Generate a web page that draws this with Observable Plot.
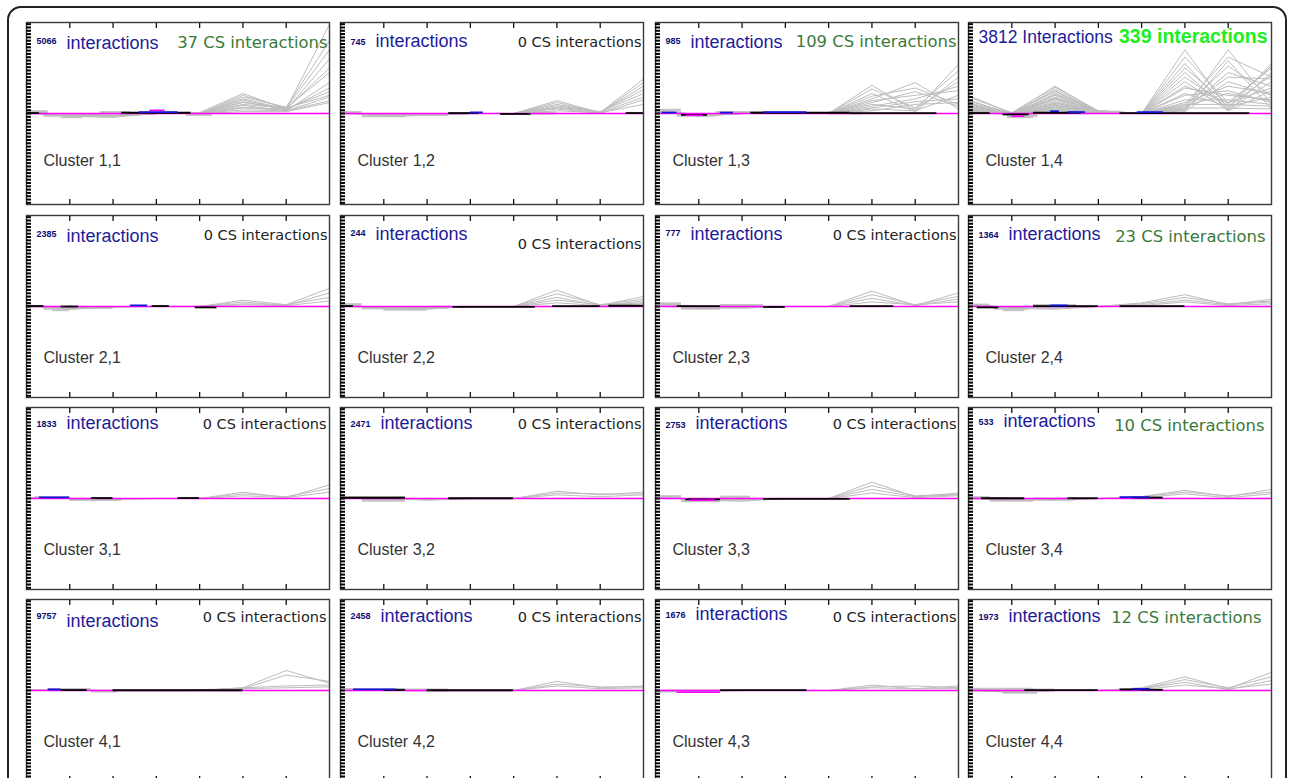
<!DOCTYPE html>
<html><head><meta charset="utf-8">
<script src="https://cdn.jsdelivr.net/npm/d3@7"></script>
<script src="https://cdn.jsdelivr.net/npm/@observablehq/plot@0.6"></script>
<style>
body{margin:0;background:#fff;}
#page{position:relative;width:1289px;height:778px;overflow:hidden;background:#fff;}
#outer{position:absolute;left:7px;top:6px;width:1280px;height:830px;border:2px solid #222;border-radius:14px;box-sizing:border-box;}
.panel{position:absolute;line-height:0;}
</style></head><body><div id="page"><div id="outer"></div></div>
<script>
// ---- data ----
const clusters = ["1,1","1,2","1,3","1,4","2,1","2,2","2,3","2,4","3,1","3,2","3,3","3,4","4,1","4,2","4,3","4,4"];
const interactions = [5066,745,985,3812,2385,244,777,1364,1833,2471,2753,533,9757,2458,1676,1973];
const csInteractions = [37,0,109,339,0,0,0,23,0,0,0,10,0,0,0,12];
const positions = [0,1,2,3,4,5,6,7];
const xTicks = [1,2,3,4,5,6];
const csMean = [0,0,0,0,0,0,0,0];

const grey11 = [[0.02,-0.03,-0.04,0,0.01,0.22,0.05,0.98],[0.01,-0.02,-0.03,0.01,0,0.18,0.07,0.8],[0.02,-0.03,-0.02,0,0,0.15,0.04,0.6],[0.01,-0.01,-0.03,0.01,0,0.12,0.06,0.45],[0,-0.02,-0.02,0,0,0.09,0.03,0.34],[0.01,-0.03,-0.04,0.01,0,0.06,0.05,0.24],[0,-0.01,-0.02,0,0,0.04,0.03,0.18],[0.01,-0.02,-0.03,0,0,0.02,0.02,0.12],[0.01,-0.02,-0.03,0,0,0.2,0.06,0.7],[0,-0.01,-0.02,0,0,0.16,0.05,0.5],[0.01,-0.02,-0.03,0,0,0.13,0.04,0.28],[0,-0.01,-0.02,0,0,0.1,0.06,0.2],[0.01,-0.02,-0.03,0,0,0.07,0.03,0.14]];
const grey12 = [[0.02,-0.03,-0.02,0,0,0.14,0.01,0.38],[0.01,-0.02,-0.01,0,0,0.1,0.01,0.3],[0.02,-0.03,-0.02,0,0,0.07,0.02,0.22],[0,-0.01,-0.01,0,0,0.05,0,0.15],[0.01,-0.02,0,0,0,0.03,0.01,0.1],[0.01,-0.02,-0.02,0,0,0.12,0.01,0.34],[0,-0.01,-0.01,0,0,0.085,0.02,0.26],[0.01,-0.02,-0.01,0,0,0.06,0.01,0.18]];
const grey13 = [[0.05,-0.03,0,0.01,0,0.31,0.03,0.54],[0.04,-0.02,0.01,0,0,0.22,0.02,0.4],[0.03,-0.03,0,0.01,0,0.16,0.34,0.05],[0.04,-0.02,0.01,0,0,0.12,0.24,0.08],[0.02,-0.01,0,0,0,0.08,0.16,0.3],[0.03,-0.02,0.01,0,0,0.05,0.03,0.2],[0.02,-0.01,0,0,0,0.03,0.1,0.12],[0.03,-0.02,0,0,0,0.27,0.06,0.47],[0.03,-0.01,0,0,0,0.19,0.28,0.1],[0.02,-0.02,0,0,0,0.14,0.2,0.25],[0.02,-0.01,0,0,0,0.1,0.05,0.35],[0.01,-0.01,0,0,0,0.06,0.13,0.16]];
const grey14 = [[0.2,0,0.3,0.02,0,0.7,0.05,0.55],[0.15,-0.01,0.27,0.02,0,0.05,0.7,0.1],[0.12,0,0.25,0.01,0,0.55,0.03,0.45],[0.1,-0.02,0.22,0.02,0,0.03,0.58,0.05],[0.08,0,0.2,0.01,0,0.45,0.04,0.35],[0.06,-0.01,0.17,0.02,0,0.04,0.45,0.3],[0.05,0,0.15,0.01,0,0.35,0.03,0.25],[0.04,-0.02,0.12,0.01,0,0.02,0.35,0.2],[0.03,0,0.1,0.02,0,0.28,0.2,0.15],[0.02,-0.01,0.08,0.01,0,0.2,0.25,0.12],[0.02,0,0.06,0.01,0,0.15,0.15,0.1],[0.01,-0.01,0.04,0,0,0.1,0.1,0.08],[0.01,0,0.03,0,0,0.06,0.06,0.05],[0.18,0.01,0.29,0.03,0,0.62,0.12,0.5],[0.14,0,0.24,0.02,0,0.1,0.62,0.4],[0.11,-0.01,0.21,0.03,0,0.5,0.1,0.52],[0.09,0,0.18,0.02,0,0.08,0.52,0.2],[0.07,-0.01,0.16,0.03,0,0.4,0.08,0.42],[0.05,0,0.13,0.02,0,0.06,0.4,0.38],[0.04,0,0.11,0.03,0,0.3,0.12,0.28],[0.03,-0.01,0.09,0.02,0,0.12,0.3,0.22],[0.02,0,0.07,0.02,0,0.22,0.08,0.18],[0.02,0,0.05,0.01,0,0.08,0.22,0.14]];
const grey21 = [[0.02,-0.03,-0.01,0,0,0.07,0.02,0.2],[0.01,-0.02,0,0,0,0.05,0.01,0.15],[0.01,-0.01,0,0,0,0.03,0.02,0.1],[0,-0.02,0,0,0,0.02,0.01,0.06]];
const grey22 = [[0.02,-0.02,-0.03,0,0,0.18,0.01,0.11],[0.01,-0.01,-0.02,0,0,0.14,0.02,0.08],[0.01,-0.02,-0.01,0,0,0.1,0.01,0.06],[0,-0.01,-0.02,0,0,0.07,0.02,0.04],[0.01,-0.01,0,0,0,0.04,0.01,0.03]];
const grey23 = [[0.04,-0.01,-0.02,0,0,0.17,0.01,0.15],[0.03,-0.02,-0.01,0,0,0.13,0.02,0.11],[0.02,-0.01,0,0,0,0.09,0.01,0.08],[0.02,0,-0.01,0,0,0.05,0.02,0.05]];
const grey24 = [[0.03,-0.02,-0.03,0,0.04,0.13,0.02,0.08],[0.02,-0.01,-0.02,0,0.03,0.1,0.03,0.06],[0.02,-0.02,-0.01,0,0.02,0.07,0.02,0.05],[0.01,-0.01,0,0,0.01,0.05,0.01,0.03]];
const grey31 = [[0.01,0,-0.01,0,0,0.07,0.01,0.15],[0.01,0,0,0,0,0.05,0.02,0.11],[0,0,-0.01,0,0,0.03,0.01,0.07]];
const grey32 = [[0.01,0,-0.01,0,0,0.08,0.04,0.07],[0,0,-0.02,0,0,0.06,0.05,0.05],[0.01,0,0,0,0,0.04,0.02,0.04]];
const grey33 = [[0.03,-0.02,-0.03,0,0,0.18,0.02,0.06],[0.02,-0.01,-0.02,0,0,0.14,0.03,0.05],[0.02,-0.02,-0.01,0,0,0.1,0.02,0.04],[0.01,-0.01,0,0,0,0.06,0.01,0.03]];
const grey34 = [[0.01,-0.01,-0.02,0,0.02,0.09,0.02,0.1],[0.01,0,-0.01,0,0.02,0.07,0.03,0.07],[0,-0.01,0,0,0.01,0.05,0.01,0.05]];
const grey41 = [[0.01,0,0,0,0,0.03,0.22,0.08],[0.01,0,0,0,0,0.02,0.17,0.1],[0,0,0,0,0,0.03,0.05,0.06],[0,0,0,0,0.01,0.02,0.03,0.04]];
const grey42 = [[0.01,0.01,0,0,0,0.1,0.03,0.05],[0,0,0,0,0,0.07,0.04,0.04],[0.01,0,0,0,0,0.05,0.02,0.03]];
const grey43 = [[0,-0.01,0,0,0,0.06,0.02,0.05],[0,0,0,0,0,0.04,0.05,0.03],[0,-0.01,0,0,0,0.03,0.02,0.02]];
const grey44 = [[0.01,-0.02,0,0,0.03,0.15,0.02,0.2],[0.01,-0.01,0,0,0.02,0.12,0.03,0.15],[0,-0.02,0,0,0.02,0.09,0.01,0.11],[0,-0.01,0,0,0.01,0.06,0.02,0.07]];

// segments: [series, from, to, value]
const seg11 = [["spread",0,0.5,0.02],["spread",0.4,1.7,-0.02],["spread",0.8,1.3,-0.035],["spread",1.7,2.4,0.01],["spread",3.7,4.3,-0.01],["all",2.2,3.8,0.008],["median",2.6,3.5,0.015],["cs",2.85,3.2,0.035],["all",0,0.3,0.005]];
const seg12 = [["spread",0,0.5,0.01],["spread",0.5,1.5,-0.025],["spread",1.5,2.5,-0.01],["spread",4.2,5,0.005],["all",2.5,3.2,0.005],["all",3.7,4.4,-0.005],["median",3.0,3.3,0.012],["all",6.6,7,0.005]];
const seg13 = [["spread",0,0.6,0.035],["spread",0.5,1.4,-0.02],["spread",1.4,2.5,0.01],["spread",4,4.8,0.005],["median",0.15,0.5,0.01],["all",0.6,1.2,-0.015],["cs",0.7,1.1,-0.02],["median",1.5,1.8,0.01],["all",2.2,4.5,0.008],["median",2.5,3.5,0.015],["all",4.5,6.5,0.005]];
const seg14 = [["spread",1,1.6,-0.02],["spread",0.9,1.5,-0.035],["spread",3,3.5,0.015],["all",0,0.5,0.005],["all",0.8,1.4,-0.01],["cs",1.0,1.3,-0.03],["all",1.5,2.6,0.008],["median",1.9,2.1,0.025],["median",2.3,2.7,0.015],["all",3.5,4.5,0.005],["median",3.9,4.5,0.015],["all",4.5,6.5,0.005]];
const seg21 = [["spread",0.4,1.1,-0.02],["spread",0.6,1,-0.035],["spread",1.1,2,-0.01],["all",0,0.4,0.005],["all",0.8,1.2,0],["median",2.4,2.8,0.012],["all",2.9,3.3,0.005],["all",3.9,4.4,-0.01]];
const seg22 = [["spread",0,0.5,0.02],["spread",0.5,1,-0.015],["spread",1,2,-0.03],["spread",2,2.5,-0.01],["all",0,0.3,0.005],["all",2.6,4.5,-0.005],["all",4.9,6,0.005],["all",6.2,7,0.008]];
const seg23 = [["spread",0,0.6,0.03],["spread",0.6,1.5,-0.02],["spread",1.5,2.5,0.01],["all",0.5,1.5,0.005],["all",2.5,3.0,-0.005],["all",4.5,5.5,0.005]];
const seg24 = [["spread",0,0.5,0.015],["spread",0.6,1.4,-0.02],["spread",0.8,1.3,-0.035],["spread",1.5,2.5,0.01],["all",0.2,0.7,-0.01],["all",1.5,3,0.005],["median",1.9,2.3,0.012],["all",3.5,5,0.005]];
const seg31 = [["spread",0.2,1,0.01],["spread",1,2.2,-0.01],["median",0.3,1,0.012],["all",1.5,2,0.005],["all",3.5,4,0.005]];
const seg32 = [["spread",0,1.5,0.01],["spread",0.5,1.5,-0.02],["all",0,1.5,0.008],["all",2.5,4,0.003]];
const seg33 = [["spread",0,0.6,0.02],["spread",0.6,1.5,-0.025],["spread",1.5,2.2,0.015],["all",0.7,1.5,-0.01],["cs",0.8,1.4,-0.018],["all",2.5,4.5,-0.005]];
const seg34 = [["spread",0,0.5,0.01],["spread",0.5,1.5,-0.02],["spread",1.5,2.5,-0.005],["all",0.3,1.3,0.003],["all",2.3,3,0.003],["median",3.5,4.2,0.015],["all",3.8,4.5,0.01]];
const seg41 = [["spread",0.5,1.5,0.01],["spread",1.5,2.1,-0.005],["spread",4.5,5,0.01],["median",0.5,0.8,0.012],["all",0.8,1.4,0.005],["all",2,5,0.003]];
const seg42 = [["spread",0,1.5,0.01],["spread",1.5,2.5,0.005],["median",0.3,1.3,0.012],["all",1,1.5,0.006],["all",2,4,0.003]];
const seg43 = [["spread",0,1.5,-0.005],["cs",0.5,1.5,-0.02],["all",1.5,3.5,0.004]];
const seg44 = [["spread",0,1.5,0.015],["spread",0.8,1.6,-0.02],["spread",1.5,2,0.005],["all",1.3,3,0.005],["all",3.5,4,0.012],["median",3.8,4.2,0.018],["all",4,4.5,0.008]];

const greyProfiles = [grey11,grey12,grey13,grey14,grey21,grey22,grey23,grey24,grey31,grey32,grey33,grey34,grey41,grey42,grey43,grey44];
const segments = [seg11,seg12,seg13,seg14,seg21,seg22,seg23,seg24,seg31,seg32,seg33,seg34,seg41,seg42,seg43,seg44];

// ---- layout (pixels, not data) ----
const colLeft = [26,340,655,968];
const rowTop = [22,215,407,599];
const PW = 303, PH = 182;
// [number baseline, "interactions" baseline, CS label baseline, CS right inset]
const textPos = [
  [21,26,25,2],[22,24,24,2],[21,25,24,2],[20,20,20,4],
  [21,26,24,2],[20,24,33,2],[20,24,24,2],[22,24,26,6],
  [19,21,21,3],[19,21,21,2],[20,21,21,2],[17,19,23,7],
  [19,27,22,3],[19,22,22,2],[18,20,22,2],[20,22,23,10]
];
const segColor = {spread:"#c4c4c4", all:"#000000", median:"#1414d8", cs:"#ff00ff"};
const segWidth = {spread:3, all:1.8, median:1.8, cs:1.6};
const yTicks = d3.range(-27,28).map(k => k*2/55);

const page = document.getElementById("page");
clusters.forEach((name, i) => {
  const r = Math.floor(i/4), c = i%4;
  const lines = greyProfiles[i].flatMap((p, k) => p.map((v, j) => ({x: positions[j], y: v, id: k})));
  const cs = csMean.map((v, j) => ({x: positions[j], y: v}));
  const segs = segments[i].map(([s, x1, x2, y]) => ({s, x1, x2, y}));
  const [nb, ib, cb, ci] = textPos[i];
  const n = interactions[i], csn = csInteractions[i];
  const segMark = s => Plot.ruleY(segs.filter(d => d.s === s), {y: "y", x1: "x1", x2: "x2", stroke: segColor[s], strokeWidth: segWidth[s]});
  const marks = [
    segMark("spread"),
    Plot.line(lines, {x: "x", y: "y", z: "id", stroke: "#bdbdbd", strokeWidth: 1}),
    Plot.line(cs, {x: "x", y: "y", stroke: "#ff00ff", strokeWidth: 1.6}),
    segMark("all"), segMark("median"), segMark("cs"),
    Plot.frame({stroke: "#3a3a3a", strokeWidth: 1.4}),
    Plot.axisX(xTicks, {anchor: "top", tickSize: -5, tickFormat: () => "", label: null, strokeWidth: 1.3, stroke: "#111"}),
    Plot.axisX(xTicks, {anchor: "bottom", tickSize: -5, tickFormat: () => "", label: null, strokeWidth: 1.3, stroke: "#111"}),
    Plot.axisY(yTicks, {anchor: "left", tickSize: -5, tickFormat: () => "", label: null, strokeWidth: 2, stroke: "#000"}),
    Plot.text([`Cluster ${name}`], {frameAnchor: "top-left", dx: 17, dy: r === 0 ? 143 : 147, lineAnchor: "bottom", textAnchor: "start", fontSize: 16, fill: "#333", fontFamily: "Liberation Sans, Arial, sans-serif"})
  ];
  if (i === 3) {
    marks.push(Plot.text([`${n} Interactions`], {frameAnchor: "top-left", dx: 10, dy: ib, lineAnchor: "bottom", textAnchor: "start", fontSize: 17.5, fill: "#1c1c9a", fontFamily: "Liberation Sans, Arial, sans-serif"}));
    marks.push(Plot.text([`${csn} interactions`], {frameAnchor: "top-right", dx: -ci, dy: cb, lineAnchor: "bottom", textAnchor: "end", fontSize: 19.5, fontWeight: "bold", fill: "#1eef1e", fontFamily: "Liberation Sans, Arial, sans-serif"}));
  } else {
    const digits = String(n).length;
    marks.push(Plot.text([n], {text: d => String(d), frameAnchor: "top-left", dx: 10, dy: nb, lineAnchor: "bottom", textAnchor: "start", fontSize: 9, fontWeight: "bold", fill: "#0c0c70", fontFamily: "Liberation Sans, Arial, sans-serif"}));
    marks.push(Plot.text(["interactions"], {frameAnchor: "top-left", dx: 10 + digits*5 + 10, dy: ib, lineAnchor: "bottom", textAnchor: "start", fontSize: 18, fill: "#1c1c9a", fontFamily: "Liberation Sans, Arial, sans-serif"}));
    marks.push(Plot.text([`${csn} CS interactions`], {frameAnchor: "top-right", dx: -ci, dy: cb, lineAnchor: "bottom", textAnchor: "end", fontSize: csn > 0 ? 16.4 : 14.5, fill: csn > 0 ? "#3a7a3a" : "#222", fontFamily: "DejaVu Sans, sans-serif"}));
  }
  const svg = Plot.plot({
    width: PW + 2, height: PH + 2,
    marginLeft: 1, marginRight: 1, marginTop: 1, marginBottom: 1,
    x: {domain: [0, 7], axis: null},
    y: {domain: [-1, 1], axis: null},
    style: {background: "transparent", overflow: "visible"},
    marks
  });
  const div = document.createElement("div");
  div.className = "panel";
  div.style.left = (colLeft[c] - 1) + "px";
  div.style.top = (rowTop[r] - 1) + "px";
  div.appendChild(svg);
  page.appendChild(div);
});
</script></body></html>
